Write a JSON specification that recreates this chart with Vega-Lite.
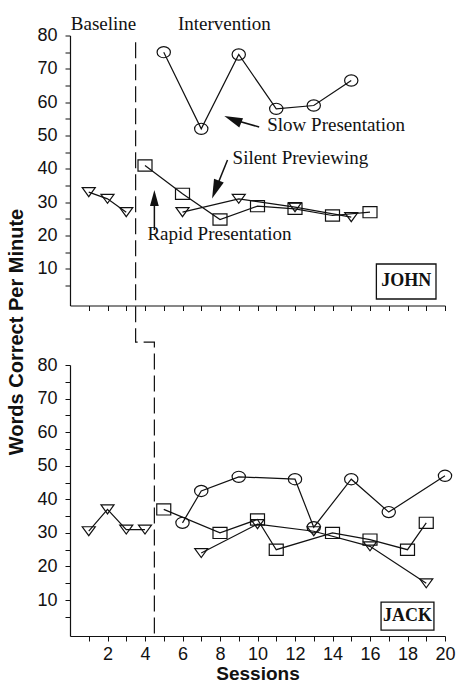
{
  "$schema": "https://vega.github.io/schema/vega-lite/v6.json",
  "padding": {"left": 6, "top": 14.5, "right": 0, "bottom": 0},
  "background": "white",
  "config": {
    "view": {"stroke": null},
    "font": "Liberation Sans",
    "axis": {
      "grid": false,
      "domainColor": "#111",
      "domainWidth": 1.2,
      "tickColor": "#111",
      "tickWidth": 1,
      "tickSize": 5,
      "labelColor": "#111",
      "titleColor": "#111",
      "labelFont": "Liberation Sans",
      "labelFontSize": 18,
      "labelOverlap": false,
      "labelFlush": false,
      "labelBound": false
    }
  },
  "datasets": {
    "john": [
      {"session": 1, "wcpm": 33, "cond": "Baseline"},
      {"session": 2, "wcpm": 31, "cond": "Baseline"},
      {"session": 3, "wcpm": 27, "cond": "Baseline"},
      {"session": 4, "wcpm": 41, "cond": "Rapid"},
      {"session": 6, "wcpm": 32.5, "cond": "Rapid"},
      {"session": 8, "wcpm": 24.8, "cond": "Rapid"},
      {"session": 10, "wcpm": 28.8, "cond": "Rapid"},
      {"session": 12, "wcpm": 28, "cond": "Rapid"},
      {"session": 14, "wcpm": 26, "cond": "Rapid"},
      {"session": 16, "wcpm": 27, "cond": "Rapid"},
      {"session": 5, "wcpm": 75, "cond": "Slow"},
      {"session": 7, "wcpm": 52, "cond": "Slow"},
      {"session": 9, "wcpm": 74.3, "cond": "Slow"},
      {"session": 11, "wcpm": 58, "cond": "Slow"},
      {"session": 13, "wcpm": 59, "cond": "Slow"},
      {"session": 15, "wcpm": 66.5, "cond": "Slow"},
      {"session": 6, "wcpm": 27, "cond": "Silent"},
      {"session": 9, "wcpm": 31, "cond": "Silent"},
      {"session": 12, "wcpm": 28.5, "cond": "Silent"},
      {"session": 15, "wcpm": 25.5, "cond": "Silent"}
    ],
    "jack": [
      {"session": 1, "wcpm": 30.5, "cond": "Baseline"},
      {"session": 2, "wcpm": 37, "cond": "Baseline"},
      {"session": 3, "wcpm": 31, "cond": "Baseline"},
      {"session": 4, "wcpm": 31, "cond": "Baseline"},
      {"session": 5, "wcpm": 37, "cond": "Rapid"},
      {"session": 8, "wcpm": 30, "cond": "Rapid"},
      {"session": 10, "wcpm": 34, "cond": "Rapid"},
      {"session": 11, "wcpm": 25, "cond": "Rapid"},
      {"session": 14, "wcpm": 30, "cond": "Rapid"},
      {"session": 16, "wcpm": 28, "cond": "Rapid"},
      {"session": 18, "wcpm": 25, "cond": "Rapid"},
      {"session": 19, "wcpm": 33, "cond": "Rapid"},
      {"session": 6, "wcpm": 33, "cond": "Slow"},
      {"session": 7, "wcpm": 42.5, "cond": "Slow"},
      {"session": 9, "wcpm": 46.7, "cond": "Slow"},
      {"session": 12, "wcpm": 46, "cond": "Slow"},
      {"session": 13, "wcpm": 31.7, "cond": "Slow"},
      {"session": 15, "wcpm": 46, "cond": "Slow"},
      {"session": 17, "wcpm": 36.2, "cond": "Slow"},
      {"session": 20, "wcpm": 47, "cond": "Slow"},
      {"session": 7, "wcpm": 24, "cond": "Silent"},
      {"session": 10, "wcpm": 32.6, "cond": "Silent"},
      {"session": 13, "wcpm": 30.5, "cond": "Silent"},
      {"session": 16, "wcpm": 26, "cond": "Silent"},
      {"session": 19, "wcpm": 15, "cond": "Silent"}
    ],
    "phase": [
      {"step": 1, "session": 3.5, "wcpm": 78},
      {"step": 2, "session": 3.5, "wcpm": -12},
      {"step": 3, "session": 4.5, "wcpm": -12},
      {"step": 4, "session": 4.5, "wcpm": -100}
    ],
    "phases": [
      {"label": "Baseline", "session": 1.79, "wcpm": 83.6},
      {"label": "Intervention", "session": 8.23, "wcpm": 83.6}
    ],
    "notes": [
      {"label": "Slow Presentation", "session": 10.52, "wcpm": 53.3},
      {"label": "Silent Previewing", "session": 8.67, "wcpm": 43.25},
      {"label": "Rapid Presentation", "session": 4.13, "wcpm": 20.45}
    ],
    "arrows": [
      {"arrow": "slow", "part": "head", "session": 8.68, "wcpm": 54.8},
      {"arrow": "slow", "part": "tail", "session": 10.09, "wcpm": 52.55},
      {"arrow": "silent", "part": "head", "session": 7.76, "wcpm": 33.77},
      {"arrow": "silent", "part": "tail", "session": 8.4, "wcpm": 42.65},
      {"arrow": "rapid", "part": "head", "session": 4.5, "wcpm": 31.25},
      {"arrow": "rapid", "part": "tail", "session": 4.5, "wcpm": 21.65}
    ],
    "johnbox": [
      {"label": "JOHN", "session": 16.34, "session2": 19.52, "wcpm": 11.45, "wcpm2": 0.95, "cx": 17.93, "cy": 6.35}
    ],
    "jackbox": [
      {"label": "JACK", "session": 16.59, "session2": 19.41, "wcpm": 9.4, "wcpm2": 1.06, "cx": 18.0, "cy": 5.23}
    ]
  },
  "spacing": 59.5,
  "bounds": "flush",
  "vconcat": [
    {
      "width": 375,
      "height": 270,
      "encoding": {
        "x": {
          "field": "session", "type": "quantitative",
          "scale": {"domain": [0, 20], "nice": false, "zero": false},
          "axis": {"values": [1,2,3,4,5,6,7,8,9,10,11,12,13,14,15,16,17,18,19,20], "labels": false, "title": null}
        },
        "y": {
          "field": "wcpm", "type": "quantitative",
          "scale": {"domain": [-1, 80], "nice": false, "zero": false},
          "axis": {
            "values": [5,10,15,20,25,30,35,40,45,50,55,60,65,70,75,80],
            "labelExpr": "datum.value % 10 === 0 ? datum.label : ''",
            "labelPadding": 8,
            "title": "Words Correct Per Minute",
            "titleFontSize": 20,
            "titleFontWeight": "bold",
            "titleX": -44,
            "titleY": 296
          }
        }
      },
      "layer": [
        {
          "data": {"name": "phase"},
          "mark": {"type": "line", "color": "#111", "strokeWidth": 1.2, "strokeDash": [16, 6]},
          "encoding": {"order": {"field": "step", "type": "quantitative"}}
        },
        {
          "data": {"name": "john"},
          "mark": {"type": "line", "color": "#111", "strokeWidth": 1.2},
          "encoding": {"detail": {"field": "cond", "type": "nominal"}}
        },
        {
          "data": {"name": "john"},
          "mark": {"type": "point", "filled": false, "stroke": "#111", "strokeWidth": 1.2, "size": 196, "opacity": 1},
          "encoding": {
            "shape": {
              "field": "cond", "type": "nominal", "legend": null,
              "scale": {
                "domain": ["Baseline", "Rapid", "Slow", "Silent"],
                "range": ["M-0.93,-0.64L0.93,-0.64L0,0.64Z", "M-1,-0.8L1,-0.8L1,0.8L-1,0.8Z", "M-0.95,0A0.95,0.8 0 1,1 0.95,0A0.95,0.8 0 1,1 -0.95,0Z", "M-0.93,-0.64L0.93,-0.64L0,0.64Z"]
              }
            }
          }
        },
        {
          "data": {"name": "arrows"},
          "mark": {"type": "line", "color": "#111", "strokeWidth": 1.5},
          "encoding": {"detail": {"field": "arrow", "type": "nominal"}}
        },
        {
          "data": {"name": "arrows"},
          "transform": [{"filter": "datum.arrow === 'slow' && datum.part === 'head'"}],
          "mark": {"type": "point", "filled": true, "color": "#111", "opacity": 1, "shape": "M0,-1L0.55,1L-0.55,1Z", "size": 330, "angle": 292}
        },
        {
          "data": {"name": "arrows"},
          "transform": [{"filter": "datum.arrow === 'silent' && datum.part === 'head'"}],
          "mark": {"type": "point", "filled": true, "color": "#111", "opacity": 1, "shape": "M0,-1L0.55,1L-0.55,1Z", "size": 360, "angle": 201}
        },
        {
          "data": {"name": "arrows"},
          "transform": [{"filter": "datum.arrow === 'rapid' && datum.part === 'head'"}],
          "mark": {"type": "point", "filled": true, "color": "#111", "opacity": 1, "shape": "M0,-1L0.55,1L-0.55,1Z", "size": 256, "angle": 0}
        },
        {
          "data": {"name": "phases"},
          "mark": {"type": "text", "font": "Liberation Serif", "fontSize": 19, "color": "#111", "align": "center", "baseline": "middle"},
          "encoding": {"text": {"field": "label"}}
        },
        {
          "data": {"name": "notes"},
          "mark": {"type": "text", "font": "Liberation Serif", "fontSize": 19, "color": "#111", "align": "left", "baseline": "middle"},
          "encoding": {"text": {"field": "label"}}
        },
        {
          "data": {"name": "johnbox"},
          "mark": {"type": "rect", "filled": false, "stroke": "#111", "strokeWidth": 1.3},
          "encoding": {"x2": {"field": "session2"}, "y2": {"field": "wcpm2"}}
        },
        {
          "data": {"name": "johnbox"},
          "mark": {"type": "text", "font": "Liberation Serif", "fontWeight": "bold", "fontSize": 18, "color": "#111", "align": "center", "baseline": "middle"},
          "encoding": {
            "x": {"field": "cx", "type": "quantitative"},
            "y": {"field": "cy", "type": "quantitative"},
            "text": {"field": "label"}
          }
        }
      ]
    },
    {
      "width": 375,
      "height": 271,
      "encoding": {
        "x": {
          "field": "session", "type": "quantitative",
          "scale": {"domain": [0, 20], "nice": false, "zero": false},
          "axis": {
            "values": [1,2,3,4,5,6,7,8,9,10,11,12,13,14,15,16,17,18,19,20],
            "labelExpr": "datum.value % 2 === 0 ? datum.label : ''",
            "labelPadding": 4,
            "title": "Sessions",
            "titleFontSize": 19,
            "titleFontWeight": "bold",
            "titlePadding": 1
          }
        },
        "y": {
          "field": "wcpm", "type": "quantitative",
          "scale": {"domain": [-0.7, 80], "nice": false, "zero": false},
          "axis": {
            "values": [5,10,15,20,25,30,35,40,45,50,55,60,65,70,75,80],
            "labelExpr": "datum.value % 10 === 0 ? datum.label : ''",
            "labelPadding": 8,
            "title": null
          }
        }
      },
      "layer": [
        {
          "data": {"name": "jack"},
          "mark": {"type": "line", "color": "#111", "strokeWidth": 1.2},
          "encoding": {"detail": {"field": "cond", "type": "nominal"}}
        },
        {
          "data": {"name": "jack"},
          "mark": {"type": "point", "filled": false, "stroke": "#111", "strokeWidth": 1.2, "size": 196, "opacity": 1},
          "encoding": {
            "shape": {
              "field": "cond", "type": "nominal", "legend": null,
              "scale": {
                "domain": ["Baseline", "Rapid", "Slow", "Silent"],
                "range": ["M-0.93,-0.64L0.93,-0.64L0,0.64Z", "M-1,-0.8L1,-0.8L1,0.8L-1,0.8Z", "M-1,0A1,0.72 0 1,1 1,0A1,0.72 0 1,1 -1,0Z", "M-0.93,-0.64L0.93,-0.64L0,0.64Z"]
              }
            }
          }
        },
        {
          "data": {"name": "jackbox"},
          "mark": {"type": "rect", "filled": false, "stroke": "#111", "strokeWidth": 1.3},
          "encoding": {"x2": {"field": "session2"}, "y2": {"field": "wcpm2"}}
        },
        {
          "data": {"name": "jackbox"},
          "mark": {"type": "text", "font": "Liberation Serif", "fontWeight": "bold", "fontSize": 18, "color": "#111", "align": "center", "baseline": "middle"},
          "encoding": {
            "x": {"field": "cx", "type": "quantitative"},
            "y": {"field": "cy", "type": "quantitative"},
            "text": {"field": "label"}
          }
        }
      ]
    }
  ]
}
